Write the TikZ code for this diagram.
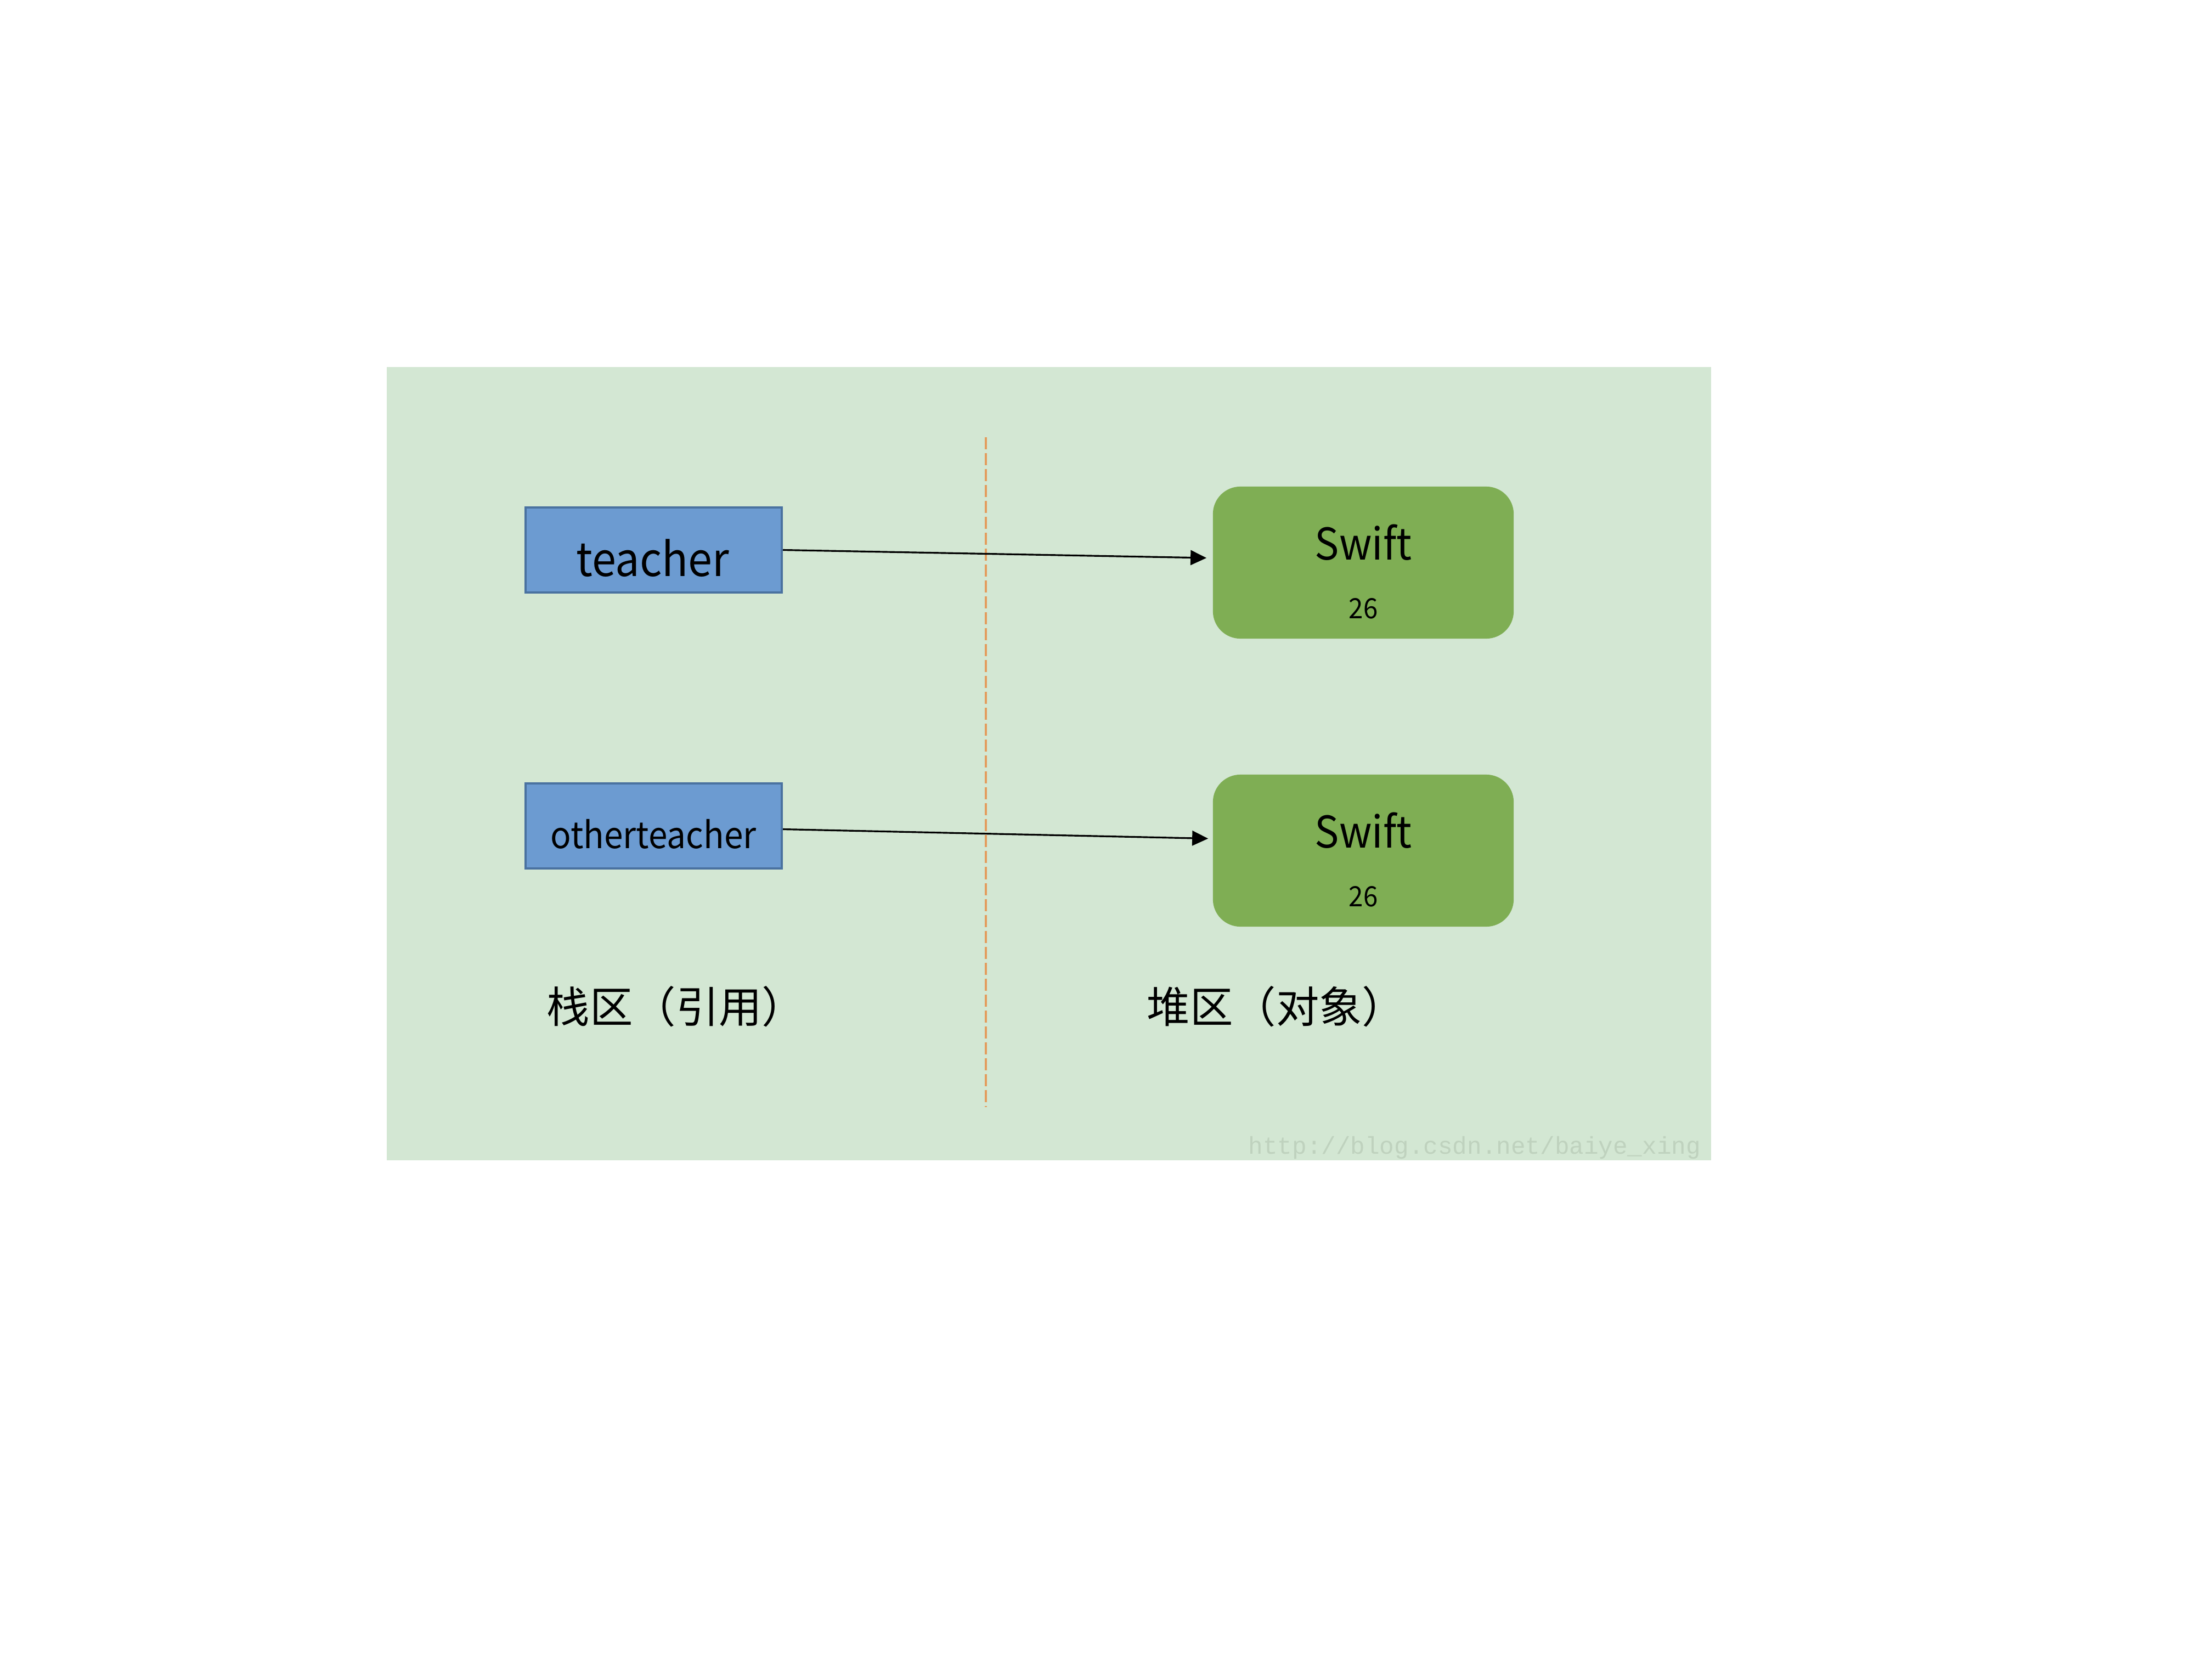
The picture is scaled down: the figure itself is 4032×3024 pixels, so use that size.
\documentclass[tikz,border=0pt]{standalone}
\usepackage{fontspec}
\setmainfont{Noto Sans CJK SC}
\newfontfamily\latinfont[FakeStretch=0.93]{Noto Sans CJK SC}
\newfontfamily\wmfont{Liberation Mono}
\usetikzlibrary{arrows.meta,calc}
\definecolor{bgcol}{HTML}{D3E7D3}
\definecolor{bluefill}{HTML}{6C9BD1}
\definecolor{blueline}{HTML}{4A72A0}
\definecolor{greenfill}{HTML}{7FAE54}
\definecolor{dashcol}{HTML}{E39D5E}
\definecolor{wmcol}{HTML}{BFD2BE}
\tikzset{
  refbox/.style={rectangle, fill=bluefill, draw=blueline, line width=0.04cm,
    minimum width=4.67cm, minimum height=1.55cm, inner sep=0pt},
  objbox/.style={rectangle, rounded corners=0.5cm, fill=greenfill, draw=none,
    minimum width=5.48cm, minimum height=2.77cm, inner sep=0pt},
  txt/.style={inner sep=0pt, anchor=base, text=black},
  arr/.style={-{Triangle[length=0.29cm,width=0.27cm]}, line width=0.9pt, black},
  divider/.style={draw=dashcol, line width=0.04cm, dash pattern=on 0.22cm off 0.07cm},
  zone/.style={inner sep=0pt, text=black, font=\fontsize{22.3}{25}\selectfont}
}
\begin{document}
\begin{tikzpicture}[x=0.01cm, y=-0.01cm]
\useasboundingbox (0,0) rectangle (4032,3024);
\fill[white] (0,0) rectangle (4032,3024);
\fill[bgcol] (705,669) rectangle (3119,2115);

% divider
\coordinate (dtop) at (1797,797);
\coordinate (dbot) at (1797,2018);
\draw[divider] (dtop) -- (dbot);

% stack references
\node[refbox] (t1) at (1191.5,1002.5) {};
\node[txt, font=\latinfont\fontsize{24.2}{28}\selectfont] (t1l) at (1190,1050) {teacher};
\node[refbox] (t2) at (1191.5,1505.5) {};
\node[txt, font=\latinfont\fontsize{19.0}{22}\selectfont] (t2l) at (1191,1546) {otherteacher};

% heap objects
\node[objbox] (s1) at (2485,1025.5) {};
\node[txt, font=\latinfont\fontsize{22.7}{26}\selectfont] (s1a) at (2485,1020) {Swift};
\node[txt, font=\latinfont\fontsize{14.5}{17}\selectfont] (s1b) at (2485,1127) {26};
\node[objbox] (s2) at (2485,1550.5) {};
\node[txt, font=\latinfont\fontsize{22.7}{26}\selectfont] (s2a) at (2485,1545) {Swift};
\node[txt, font=\latinfont\fontsize{14.5}{17}\selectfont] (s2b) at (2485,1652) {26};

% connectors
\draw[arr] (t1.east) -- ([xshift=-0.11cm,yshift=0.085cm]s1.west);
\draw[arr] ([yshift=-0.06cm]t2.east) -- ([xshift=-0.08cm,yshift=0.22cm]s2.west);

% zone labels
\node[zone] (zl) at (1232,1835) {栈区（引用）};
\node[zone] (zr) at (2326,1835) {堆区（对象）};

% watermark
\node[inner sep=0pt, anchor=base west, text=wmcol, font=\wmfont\fontsize{12.6}{15}\selectfont] (wm) at (2275,2103) {http://blog.csdn.net/baiye\_xing};
\end{tikzpicture}
\end{document}
